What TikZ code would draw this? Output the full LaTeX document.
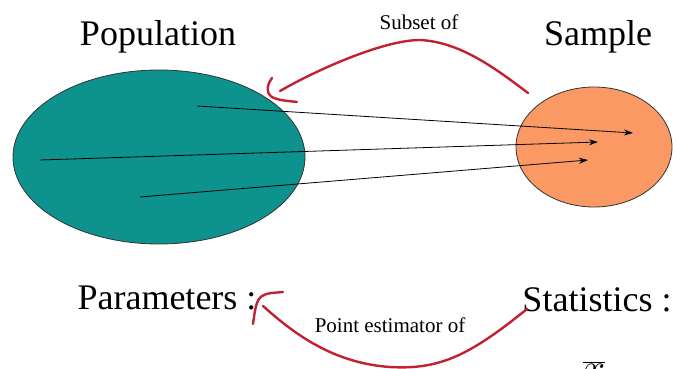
\RequirePackage{fix-cm}
\documentclass[tikz,border=0pt]{standalone}
\usepackage{fontspec}
\setmainfont{Liberation Serif}
\usetikzlibrary{arrows.meta}
\definecolor{popteal}{RGB}{14,146,142}
\definecolor{samporange}{RGB}{250,153,100}
\definecolor{handred}{RGB}{196,32,52}
\tikzset{
  bigtext/.style={font=\fontsize{36}{40}\selectfont, inner sep=0pt},
  smalltext/.style={font=\fontsize{21}{24}\selectfont, inner sep=0pt},
  blob/.style={draw=black!80, line width=0.8pt},
  ray/.style={draw=black, line width=0.8pt, -{Stealth[length=9pt,width=6pt]}},
  redpen/.style={draw=handred, line width=2.4pt, line cap=round, line join=round},
}
\begin{document}
\begin{tikzpicture}[x=1pt,y=-1pt]
\useasboundingbox (0,0) rectangle (673,369);
\clip (0,0) rectangle (673,369);
% ellipses
\draw[blob, fill=popteal] (159,157) ellipse [x radius=146, y radius=87];
\node[inner sep=0pt, minimum size=0pt] (pop) at (159,157) {};
\draw[blob, fill=samporange] (594,147) ellipse [x radius=78, y radius=60];
\node[inner sep=0pt, minimum size=0pt] (samp) at (594,147) {};
% titles
\node[bigtext] (poptitle) at (158,37) {Population};
\node[bigtext] (samptitle) at (598,37) {Sample};
\node[smalltext] (subset) at (419,22) {Subset of};
% rays
\coordinate (p1) at (197,106);
\coordinate (p2) at (40,160);
\coordinate (p3) at (140,197);
\coordinate (s1) at (633,133);
\coordinate (s2) at (598,142);
\coordinate (s3) at (588,160);
\draw[ray] (p1) -- (s1);
\draw[ray] (p2) -- (s2);
\draw[ray] (p3) -- (s3);
% top red curve
\coordinate (tstart) at (528,93);
\coordinate (tend) at (280,91);
\draw[redpen] (tstart) .. controls (495,68) and (460,42) .. (420,40)
   .. controls (385,40) and (320,68) .. (tend);
\draw[redpen] (272,78) .. controls (266,86) and (266,95) .. (274,98)
   .. controls (282,101) and (290,101) .. (297,102);
% bottom labels
\node[bigtext] (params) at (167,298) {Parameters :};
\node[bigtext] (stats) at (597,300) {Statistics :};
\node[smalltext] (pest) at (390,325) {Point estimator of};
% bottom red curve
\coordinate (bstart) at (527,309);
\coordinate (bend) at (263,306);
\draw[redpen] (bstart) .. controls (470,355) and (440,370) .. (390,367)
   .. controls (330,363) and (290,330) .. (bend);
\draw[redpen] (253,324) .. controls (255,310) and (256,300) .. (262,296)
   .. controls (268,292) and (276,293) .. (283,292);
% cut-off symbols
\node[font=\fontsize{36}{40}\selectfont, anchor=base, inner sep=0pt] (mu) at (146,385) {$\mu$};
\node[font=\fontsize{40}{44}\selectfont, anchor=base, inner sep=0pt] (xbar) at (594,381) {$\overline{x}$};
\end{tikzpicture}
\end{document}
